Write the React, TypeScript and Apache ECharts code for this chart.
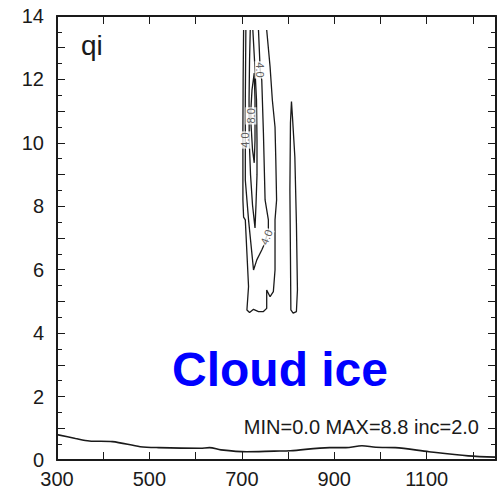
import { useEffect, useRef } from "react";
import * as echarts from "echarts";

// Axis ranges and tick labels
const X_MIN = 300;
const X_MAX = 1250;
const Y_MIN = 0;
const Y_MAX = 14;
const xLabelValues = [300, 500, 700, 900, 1100];
const yLabelValues = [0, 2, 4, 6, 8, 10, 12, 14];

// Near-surface contour line
const bottomX = [300, 340, 370, 420, 480, 520, 610, 630, 655, 710, 770, 805, 890, 925, 960, 990, 1032, 1105, 1190, 1250];
const bottomY = [0.8, 0.68, 0.6, 0.58, 0.42, 0.39, 0.37, 0.39, 0.32, 0.26, 0.28, 0.29, 0.39, 0.39, 0.45, 0.4, 0.39, 0.26, 0.13, 0.09];

// Contour 2.0 (outer)
const c2X = [703.8, 702.8, 702.3, 702.3, 703.8, 707.5, 711, 714.5, 711, 716.7, 725.3, 736, 746.7, 753.8, 753.8, 761.1, 768.2, 771.8, 771.8, 775.2, 773.5, 771.8, 766, 761.1, 753.8];
const c2Y = [13.56, 12.0, 10.41, 8.2, 7.66, 7.57, 6.52, 5.47, 4.73, 4.65, 4.75, 4.68, 4.68, 4.78, 5.36, 5.15, 5.31, 5.99, 7.57, 8.2, 9.46, 10.5, 11.35, 12.4, 13.56];

// Contour 4.0
const c4X = [708.7, 707.5, 707.5, 707.5, 714.5, 721.6, 725.3, 732.4, 743.1, 748.9, 757.4, 757.4, 750.3, 746.7, 743.1, 739.7, 736];
const c4Y = [13.56, 11.35, 10.06, 8.83, 7.57, 6.53, 5.99, 6.31, 6.62, 6.81, 7.25, 7.57, 8.2, 10.31, 11.98, 12.3, 13.56];

// Contour 6.0
const c6X = [718.2, 716.7, 715.6, 716, 718.8, 723.1, 728.5, 730.6, 732.8, 732.8, 731.7, 727.4, 723.8];
const c6Y = [13.56, 12.61, 11.35, 10.09, 8.99, 8.04, 7.32, 8.04, 8.99, 10.09, 11.35, 12.61, 13.56];

// Contour 8.0 (closed)
const c8X = [726.8, 728.5, 728.5, 726.8, 723.1, 719.9, 719.5, 722, 726.8];
const c8Y = [12.2, 11.35, 10.09, 9.37, 9.78, 10.56, 11.04, 11.67, 12.2];

// Second contour (closed sliver near x=810)
const cbX = [807.4, 805.2, 804, 805.2, 806.1, 811, 818.1, 820.3, 818.1, 814.7, 809.5, 807.4];
const cbY = [11.3, 10.63, 8.51, 6.41, 4.73, 4.63, 4.68, 5.36, 7.46, 9.56, 10.83, 11.3];

// Contour labels
const labelText = ["4.0", "8.0", "4.0", "4.0"];
const labelX = [739.7, 719.5, 707.5, 753.2];
const labelY = [12.3, 10.85, 10.09, 7.03];
const labelRot = [-90, 90, 90, 68];

const FONT = "'Liberation Sans', Arial, Helvetica, sans-serif";
const INK = "#1a1a1a";

const zip = (xs: number[], ys: number[]) => xs.map((x, i) => [x, ys[i]]);

export default function App() {
  const ref = useRef<HTMLDivElement>(null);

  useEffect(() => {
    document.body.style.margin = "0";
    const chart = echarts.init(ref.current!, undefined, { renderer: "svg" });

    const lineStyleSeries = (name: string, xs: number[], ys: number[], width = 1.3, smooth: number | boolean = false) => ({
      name,
      type: "line",
      xAxisIndex: 0,
      yAxisIndex: 0,
      data: zip(xs, ys),
      showSymbol: false,
      symbol: "none",
      smooth,
      lineStyle: { color: INK, width },
      silent: true,
      z: 2,
    });

    const xAxisBase = {
      type: "value",
      min: X_MIN,
      max: X_MAX,
      interval: 100,
      splitLine: { show: false },
      axisLine: { show: true, onZero: false, lineStyle: { color: INK, width: 2 } },
      axisTick: { show: true, inside: true, length: 8, lineStyle: { color: INK, width: 1 } },
    };
    const yAxisBase = {
      type: "value",
      min: Y_MIN,
      max: Y_MAX,
      interval: 1,
      splitLine: { show: false },
      axisLine: { show: true, onZero: false, lineStyle: { color: INK, width: 2 } },
      axisTick: { show: true, inside: true, length: 8, lineStyle: { color: INK, width: 1 } },
      minorTick: { show: true, splitNumber: 2, length: 5, lineStyle: { color: INK, width: 1 } },
    };

    chart.setOption({
      animation: false,
      grid: { left: 57, top: 16, width: 444, height: 444, containLabel: false },
      xAxis: [
        {
          ...xAxisBase,
          position: "bottom",
          axisLabel: {
            show: true,
            margin: 9,
            fontSize: 20,
            fontFamily: FONT,
            color: INK,
            formatter: (v: number) => (xLabelValues.includes(v) ? String(v) : ""),
          },
        },
        { ...xAxisBase, position: "top", axisLabel: { show: false } },
      ],
      yAxis: [
        {
          ...yAxisBase,
          position: "left",
          axisLabel: {
            show: true,
            margin: 13,
            fontSize: 20,
            fontFamily: FONT,
            color: INK,
            formatter: (v: number) => (yLabelValues.includes(v) ? String(v) : ""),
          },
        },
        { ...yAxisBase, position: "right", axisLabel: { show: false } },
      ],
      series: [
        lineStyleSeries("bottom", bottomX, bottomY, 1.6, 0.3),
        lineStyleSeries("c2", c2X, c2Y),
        lineStyleSeries("c4", c4X, c4Y),
        lineStyleSeries("c6", c6X, c6Y),
        lineStyleSeries("c8", c8X, c8Y),
        lineStyleSeries("cb", cbX, cbY),
        {
          name: "labels",
          type: "scatter",
          xAxisIndex: 0,
          yAxisIndex: 0,
          symbolSize: 0,
          silent: true,
          z: 5,
          data: labelText.map((t, i) => ({
            value: [labelX[i], labelY[i]],
            label: {
              show: true,
              position: "inside",
              formatter: t,
              rotate: labelRot[i],
              fontSize: 11,
              fontFamily: FONT,
              color: "#333",
              backgroundColor: "#fff",
              padding: [0, 1],
            },
          })),
        },
      ],
      graphic: [
        {
          type: "text",
          x: 81,
          y: 45.5,
          style: { text: "qi", font: `28px ${FONT}`, fill: INK, textVerticalAlign: "middle" },
        },
        {
          type: "text",
          x: 280,
          y: 369,
          style: {
            text: "Cloud ice",
            font: `bold 48px ${FONT}`,
            fill: "#0000ff",
            textAlign: "center",
            textVerticalAlign: "middle",
          },
        },
        {
          type: "text",
          x: 479,
          y: 426.5,
          style: {
            text: "MIN=0.0 MAX=8.8 inc=2.0",
            font: `20px ${FONT}`,
            fill: INK,
            textAlign: "right",
            textVerticalAlign: "middle",
          },
        },
      ],
    });

    return () => chart.dispose();
  }, []);

  return <div ref={ref} style={{ width: 499, height: 493, background: "#fff" }} />;
}
